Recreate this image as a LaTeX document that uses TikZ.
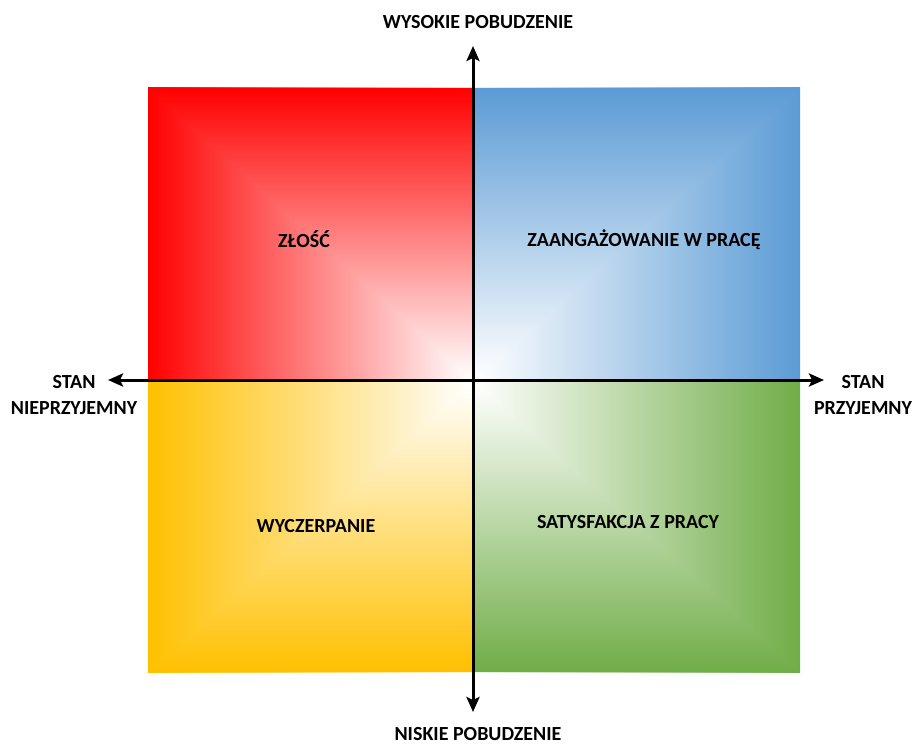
\documentclass[tikz,border=0pt]{standalone}
\usepackage{fontspec}
\setmainfont{Carlito}
\usetikzlibrary{positioning, arrows.meta}

\definecolor{zloscred}{RGB}{255,0,0}
\definecolor{pracablue}{RGB}{91,155,213}
\definecolor{wyczyellow}{RGB}{255,192,0}
\definecolor{satysgreen}{RGB}{112,173,71}

\begin{document}
\begin{tikzpicture}[%
		x=1pt, y=-1pt,
		axisarrow/.style={
			line width=3pt,
			black,
			{Stealth[length=15pt,width=13pt,inset=3pt]}-{Stealth[length=15pt,width=13pt,inset=3pt]}
		},
		axislabel/.style={
			font=\fontsize{20}{26}\selectfont\bfseries,
			align=center,
			inner sep=0pt
		},
		fieldlabel/.style={
			font=\fontsize{20}{24}\selectfont\bfseries,
			align=center,
			inner sep=0pt
		}]

		\useasboundingbox (0,0) rectangle (917,746);

		% QUADRANTS (white at the centre, colour towards the outer corner)

		\shade[left color=zloscred, right color=white] (148,88) rectangle (472,380);
		\shade[top color=zloscred, bottom color=white] (472,380) -- (148,88) -- (472,88) -- cycle;

		\shade[left color=white, right color=pracablue] (474,88) rectangle (800,380);
		\shade[top color=pracablue, bottom color=white] (474,380) -- (800,88) -- (474,88) -- cycle;

		\shade[left color=wyczyellow, right color=white] (148,382) rectangle (472,672);
		\shade[top color=white, bottom color=wyczyellow] (472,382) -- (148,672) -- (472,672) -- cycle;

		\shade[left color=white, right color=satysgreen] (474,382) rectangle (800,672);
		\shade[top color=white, bottom color=satysgreen] (474,382) -- (800,672) -- (474,672) -- cycle;

		\node[fieldlabel] (zlosc) at (304,239) {ZŁOŚĆ};
		\node[fieldlabel] (zaangazowanie) at (644,240) {ZAANGAŻOWANIE W PRACĘ};
		\node[fieldlabel] (wyczerpanie) at (316,526) {WYCZERPANIE};
		\node[fieldlabel] (satysfakcja) at (628,522) {SATYSFAKCJA Z PRACY};

		% AXES

		\coordinate (centre) at (473,380);
		\coordinate (high) at (473,46);
		\coordinate (low) at (473,712);
		\coordinate (unpleasant) at (108,380);
		\coordinate (pleasant) at (824,380);

		\draw[axisarrow] (low) -- (high);
		\draw[axisarrow] (unpleasant) -- (pleasant);

		\node[axislabel] (highlabel) at (478,22) {WYSOKIE POBUDZENIE};
		\node[axislabel] (lowlabel) at (478,734) {NISKIE POBUDZENIE};
		\node[axislabel] (unpleasantlabel) at (74,395) {STAN\\NIEPRZYJEMNY};
		\node[axislabel] (pleasantlabel) at (863,395) {STAN\\PRZYJEMNY};
\end{tikzpicture}
\end{document}
